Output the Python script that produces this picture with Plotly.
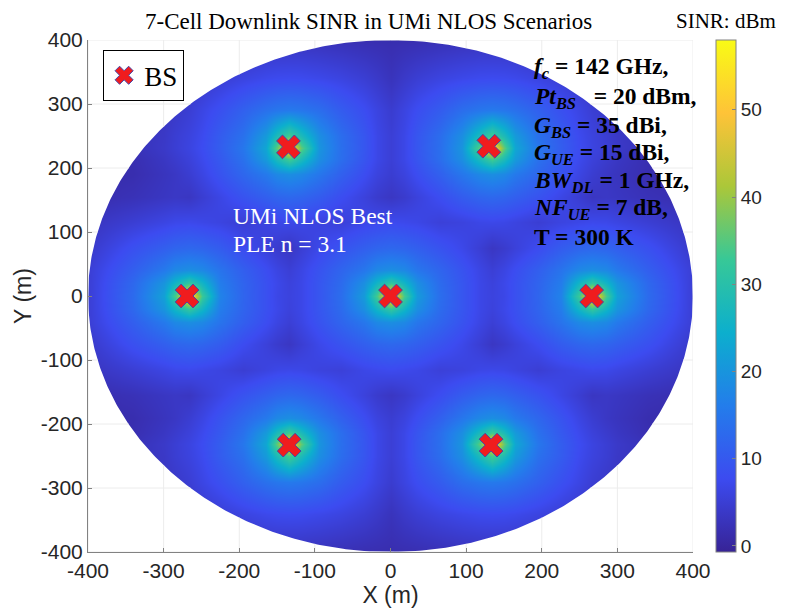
import numpy as np
import plotly.graph_objects as go

# sample positions, read on the x>=0, y>=0 quarter of the disk (the picture is mirror symmetric)
x_half = [0, 18, 35, 65, 95, 118, 134, 150, 165, 195, 225, 249, 267, 285, 300, 340, 400]
y_half = [0, 20, 40, 75, 115, 155, 190, 214, 232, 250, 290, 340, 400]

# SINR values, one list per y_half row
sinr_y0 = [56, 34, 21, 13.5, 9.5, 6.8, 6, 6.8, 8.5, 12, 17, 33, 56, 34, 22, 13, 5]
sinr_y20 = [32, 26, 19, 13, 9.5, 6.8, 5.8, 7, 8.5, 11.8, 16, 26, 32, 26, 20, 12.5, 5]
sinr_y40 = [19, 18, 15, 12, 9, 6.5, 5.2, 6.4, 8, 11, 14.5, 18, 19, 18, 15.5, 11, 5]
sinr_y75 = [12.5, 12, 11, 9, 7, 5, 3.5, 4.4, 5.6, 7.8, 10.5, 12, 12.5, 12, 11, 8.5, 4]
sinr_y115 = [7.5, 7.2, 6.8, 5.5, 6, 6.8, 7, 6.8, 6.2, 5, 6.2, 6.8, 7.2, 7, 6.4, 5, 3]
sinr_y155 = [3.5, 4.4, 5.8, 8, 10.5, 12, 12.5, 12, 11, 9, 6.6, 4.8, 3.4, 3.7, 3.4, 2.4, 1.5]
sinr_y190 = [4.8, 6, 8, 11.3, 15, 18, 19, 18, 15.5, 12.3, 9, 6.4, 4.8, 3.6, 3, 1.6, 1]
sinr_y214 = [5.2, 6.8, 9.3, 13.5, 19, 28, 34, 28, 21, 14, 10, 7.3, 5.6, 4.4, 3.5, 1.8, 1.5]
sinr_y232 = [5.2, 6.8, 9.6, 13.7, 20, 36, 56, 36, 23, 15, 10.7, 7.8, 6.2, 5, 4, 2.4, 1.5]
sinr_y250 = [5.2, 6.8, 9.5, 13.4, 19, 28, 34, 28, 21, 14, 10.5, 7.5, 6, 4.9, 3.8, 2.6, 2]
sinr_y290 = [4.6, 6.2, 8, 10.5, 13.5, 15, 15.5, 15, 14, 11.3, 8.5, 6.5, 5, 4, 3.4, 2.6, 2]
sinr_y340 = [2.8, 4, 5, 6.2, 7, 7.5, 7.6, 7.5, 7.2, 6.2, 5, 4, 3.4, 3, 2.8, 2.2, 2]
sinr_y400 = [1.6, 1.7, 1.8, 2.2, 2.6, 2.8, 2.8, 2.8, 2.6, 2.4, 2.2, 2.1, 2, 2, 2, 2, 2]

sinr_rows = [sinr_y0, sinr_y20, sinr_y40, sinr_y75, sinr_y115, sinr_y155, sinr_y190,
             sinr_y214, sinr_y232, sinr_y250, sinr_y290, sinr_y340, sinr_y400]

# base stations
bs_x = [-135, 130, -269, 0, 266, -134, 133]
bs_y = [233, 234, 0, 0, 0, -233, -233]

tick_vals = [-400, -300, -200, -100, 0, 100, 200, 300, 400]
tick_text = ["-400", "-300", "-200", "-100", "0", "100", "200", "300", "400"]
cbar_ticks = [0, 10, 20, 30, 40, 50]

params = ["<i>f<sub>c</sub></i> = 142 GHz,", "<i>Pt<sub>BS</sub></i>\u00a0\u00a0 = 20 dBm,", "<i>G<sub>BS</sub></i> = 35 dBi,",
          "<i>G<sub>UE</sub></i> = 15 dBi,", "<i>BW<sub>DL</sub></i> = 1 GHz,", "<i>NF<sub>UE</sub></i> = 7 dB,", "T = 300 K"]
params_y = [356, 309, 264, 222, 178, 136, 92]

parula = [[0, "rgb(55,35,150)"], [0.143, "rgb(60,75,240)"], [0.286, "rgb(35,125,235)"], [0.429, "rgb(12,175,205)"],
          [0.571, "rgb(55,200,151)"], [0.714, "rgb(171,199,57)"], [0.857, "rgb(254,195,56)"], [1, "rgb(249,251,21)"]]

SERIF = "Liberation Serif"
SANS = "Liberation Sans"
GRID = "rgb(236,236,236)"
AXIS = "rgb(130,130,130)"

x_full = [-v for v in x_half[:0:-1]] + x_half
y_full = [-v for v in y_half[:0:-1]] + y_half
z_top = [r[:0:-1] + r for r in sinr_rows]
z_full = z_top[:0:-1] + z_top

fig = go.Figure()

fig.add_trace(go.Heatmap(x=x_full, y=y_full, z=z_full, zsmooth="best", colorscale=parula, zmin=-0.7, zmax=58,
                         hoverinfo="skip", showscale=True,
                         colorbar=dict(thickness=20, thicknessmode="pixels", len=1, lenmode="fraction",
                                       x=1.038, xanchor="left", y=0.5, yanchor="middle", xpad=0, ypad=0,
                                       tickvals=cbar_ticks, ticks="inside", ticklen=4, tickcolor=AXIS,
                                       tickfont=dict(family=SANS, size=19, color="rgb(38,38,38)"),
                                       outlinecolor=AXIS, outlinewidth=1)))

# white outside the disk, keyhole path starting where the circle touches the frame
t = np.linspace(np.pi, -np.pi, 721)
mask_x = list(400 * np.cos(t)) + [-400, -400, 400, 400, -400, -400]
mask_y = list(400 * np.sin(t)) + [0, -400, -400, 400, 400, 0]
fig.add_trace(go.Scatter(x=mask_x, y=mask_y, mode="lines", fill="toself", fillcolor="white", line=dict(width=0),
                         hoverinfo="skip", showlegend=False))

# grid only shows outside the disk
gx, gy = [], []
for g in tick_vals:
    h = np.sqrt(400**2 - g**2)
    gx += [g, g, None, g, g, None]
    gy += [h, 400, None, -h, -400, None]
    gx += [h, 400, None, -h, -400, None]
    gy += [g, g, None, g, g, None]
fig.add_trace(go.Scatter(x=gx, y=gy, mode="lines", line=dict(color=GRID, width=1), hoverinfo="skip",
                         showlegend=False, cliponaxis=False))

fig.add_trace(go.Scatter(x=bs_x, y=bs_y, mode="markers", name="BS",
                         marker=dict(symbol="x", size=21, color="rgb(240,28,30)",
                                     line=dict(color="rgb(70,70,170)", width=1))))

axis_style = dict(range=[-400, 400], tickvals=tick_vals, ticktext=tick_text, showgrid=False, zeroline=False,
                  ticks="inside", ticklen=4, tickcolor=AXIS, showline=True, linecolor=AXIS, linewidth=1,
                  automargin=True, tickfont=dict(family=SANS, size=21, color="rgb(38,38,38)"))

fig.update_xaxes(title=dict(text="X (m)", font=dict(family=SANS, size=23, color="rgb(38,38,38)"), standoff=6), **axis_style)
fig.update_yaxes(title=dict(text="Y (m)", font=dict(family=SANS, size=23, color="rgb(38,38,38)"), standoff=2), **axis_style)

notes = [
    dict(text="7-Cell Downlink SINR in UMi NLOS Scenarios", xref="paper", yref="paper", x=0.464, y=1.037,
         xanchor="center", font=dict(family=SERIF, size=23, color="black")),
    dict(text="SINR: dBm", xref="paper", yref="paper", x=0.97, y=1.037, xanchor="left",
         font=dict(family=SERIF, size=21, color="black")),
    dict(text="UMi NLOS Best", x=-210, y=125, xanchor="left", font=dict(family=SERIF, size=23.5, color="white")),
    dict(text="PLE n = 3.1", x=-210, y=81, xanchor="left", font=dict(family=SERIF, size=23.5, color="white")),
]
for txt, yy in zip(params, params_y):
    notes.append(dict(text="<b>" + txt + "</b>", x=188, y=yy, xanchor="left",
                      font=dict(family=SERIF, size=23.5, color="black")))
for n in notes:
    fig.add_annotation(showarrow=False, yanchor="middle", borderpad=0, **n)

fig.update_layout(
    width=773, height=600,
    margin=dict(l=80, r=88, t=32, b=56, autoexpand=False),
    paper_bgcolor="white", plot_bgcolor="white",
    legend=dict(x=0.025, y=0.98, xanchor="left", yanchor="top", bgcolor="white", bordercolor="black", borderwidth=1,
                font=dict(family=SERIF, size=27, color="black"), entrywidth=56, entrywidthmode="pixels"),
)

fig.write_html("out.html")
